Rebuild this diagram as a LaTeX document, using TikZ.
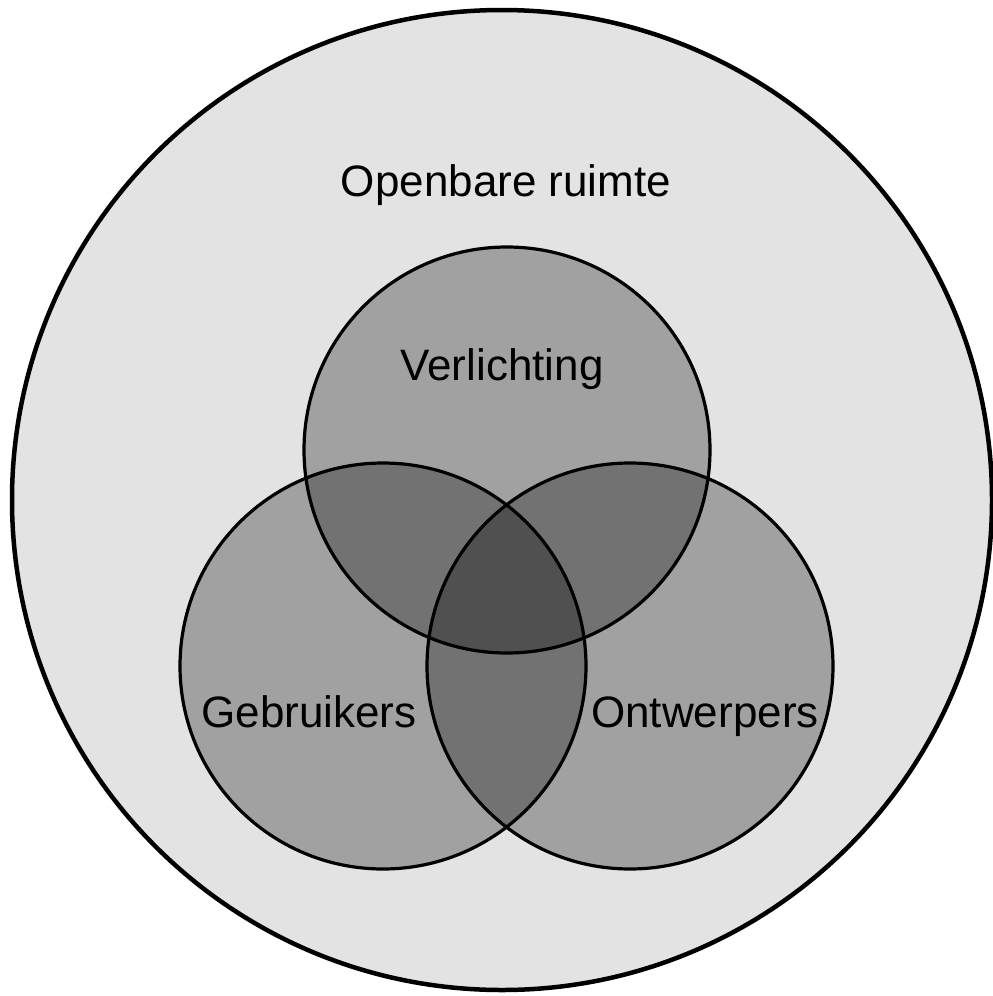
\documentclass[tikz,border=0pt]{standalone}
\usepackage{fontspec}
\setmainfont{Liberation Sans}
\begin{document}
\begin{tikzpicture}[x=1pt,y=-1pt,
  outerset/.style={circle,draw=black,line width=4.5pt,fill=black!11,minimum size=980pt,inner sep=0pt},
  setcirc/.style={circle,draw=black,line width=3.2pt,fill=black,fill opacity=0.29,draw opacity=1,minimum size=406pt,inner sep=0pt},
  lbl/.style={font=\fontsize{44}{52}\selectfont,anchor=base,inner sep=0pt,text=black}]
\useasboundingbox (0,0) rectangle (993,996);
\fill[white] (0,0) rectangle (993,996);
\node[outerset] (outer) at (502,500) {};
\node[setcirc] (verl) at (507,450) {};
\node[setcirc] (gebr) at (383,666) {};
\node[setcirc] (ontw) at (630,666) {};
\node[lbl] (tout) at (506,196) {Openbare ruimte};
\node[lbl] (tverl) at (502,380) {Verlichting};
\node[lbl] (tgebr) at (309,727) {Gebruikers};
\node[lbl] (tontw) at (705,727) {Ontwerpers};
\end{tikzpicture}
\end{document}
